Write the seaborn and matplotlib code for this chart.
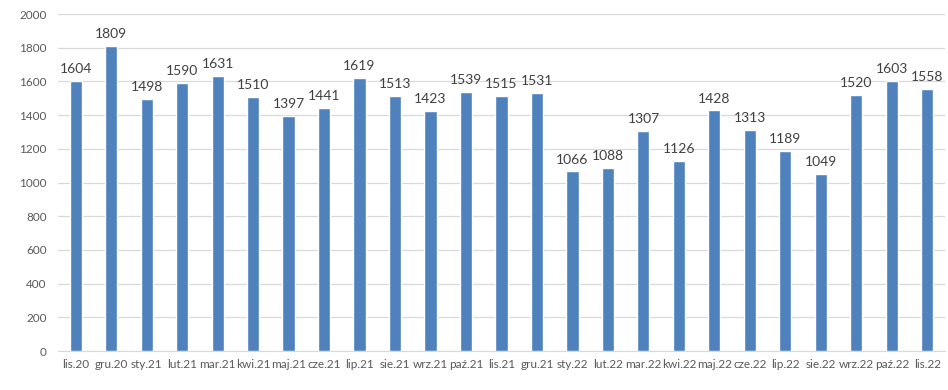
import pandas as pd
import numpy as np
import matplotlib
matplotlib.use('Agg')
import matplotlib.pyplot as plt
import seaborn as sns

# dane miesięczne
miesiace = ['lis.20', 'gru.20', 'sty.21', 'lut.21', 'mar.21', 'kwi.21', 'maj.21',
            'cze.21', 'lip.21', 'sie.21', 'wrz.21', 'paź.21', 'lis.21', 'gru.21',
            'sty.22', 'lut.22', 'mar.22', 'kwi.22', 'maj.22', 'cze.22', 'lip.22',
            'sie.22', 'wrz.22', 'paź.22', 'lis.22']
wartosci = [1604, 1809, 1498, 1590, 1631, 1510, 1397, 1441, 1619, 1513, 1423,
            1539, 1515, 1531, 1066, 1088, 1307, 1126, 1428, 1313, 1189, 1049,
            1520, 1603, 1558]
y_ticks = [0, 200, 400, 600, 800, 1000, 1200, 1400, 1600, 1800, 2000]

df = pd.DataFrame({'miesiac': miesiace, 'wartosc': wartosci})

sns.set_style('white')
plt.rcParams['font.family'] = ['Lato', 'DejaVu Sans']

fig = plt.figure(figsize=(9.48, 3.9), dpi=100)
ax = fig.add_axes([0.061, 0.1, 0.936, 0.864])

sns.barplot(data=df, x='miesiac', y='wartosc', color='#4F81BD', width=0.34,
            saturation=1, ax=ax, zorder=3)

for i, v in enumerate(wartosci):
    ax.text(i, v + 35, str(v), ha='center', va='bottom', fontsize=10,
            color='#404040')

ax.set_ylim(0, 2000)
ax.set_xlim(-0.5, len(miesiace) - 0.5)
ax.set_yticks(y_ticks)
ax.yaxis.grid(True, color='#D9D9D9', linewidth=0.9, zorder=0)
ax.set_axisbelow(True)
ax.set_xlabel('')
ax.set_ylabel('')

for s in ['top', 'right', 'left']:
    ax.spines[s].set_visible(False)
ax.spines['bottom'].set_color('#D9D9D9')

ax.tick_params(axis='y', length=0, labelsize=8.5, labelcolor='#595959', pad=8)
ax.tick_params(axis='x', which='major', length=0, labelsize=8.5,
               labelcolor='#595959', pad=6)
ax.set_xticks(np.arange(-0.5, len(miesiace), 1), minor=True)
ax.tick_params(axis='x', which='minor', length=4, color='#D9D9D9')

fig.savefig('out.png', dpi=100)
